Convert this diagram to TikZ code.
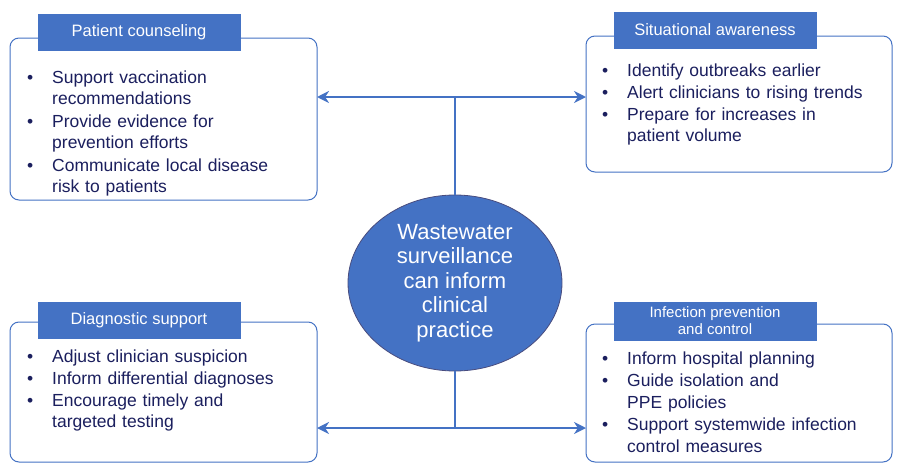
\documentclass[tikz,border=0pt]{standalone}
\usepackage{fontspec}
\setmainfont{Liberation Sans}
\usetikzlibrary{shapes.geometric,arrows.meta}
\definecolor{wwblue}{HTML}{4472C4}
\definecolor{wwtext}{HTML}{1B1F5E}
\newcommand{\bitem}[1]{\par\lineskiplimit=100pt\lineskip=1pt\noindent\makebox[25pt][l]{\textbullet}%
  \parbox[t]{265pt}{\lineskiplimit=0pt\raggedright\strut #1\strut}}
\tikzset{
  panel/.style={draw=wwblue, rounded corners=9pt, line width=1pt, fill=white},
  tab/.style={fill=wwblue, draw=wwblue, text=white, font=\fontsize{16.5}{18}\selectfont, align=center, inner sep=0pt},
  items/.style={anchor=north west, text width=290pt, inner sep=0pt, text=wwtext,
    font=\fontsize{17.5}{21.5}\selectfont, align=left},
  link/.style={wwblue, line width=2.6pt},
  tip/.style={link, <->, >={Stealth[length=12pt,width=12pt]}}
}
\begin{document}
\begin{tikzpicture}[x=1pt,y=-1pt]
  \useasboundingbox (0,0) rectangle (900,469);

  % connectors
  \coordinate (tl) at (317,97);
  \coordinate (tr) at (586,97);
  \coordinate (tm) at (455,97);
  \coordinate (bl) at (317,428);
  \coordinate (br) at (586,428);
  \coordinate (bm) at (455,428);
  \node[ellipse, fill=wwblue, draw=wwtext!80, line width=0.8pt, minimum width=214pt, minimum height=176pt,
    text=white, align=center, font=\fontsize{22}{24.5}\selectfont] (hub) at (455,283)
    {Wastewater\\surveillance\\can inform\\clinical\\practice};
  \draw[tip] (tl) -- (tr);
  \draw[tip] (bl) -- (br);
  \draw[link] (tm) -- (hub.north);
  \draw[link] (hub.south) -- (bm);

  % === Patient counseling ===
  \draw[panel] (10,38) rectangle (317,200);
  \node[tab, minimum width=202pt, minimum height=36pt] (pc) at (139,32) {Patient counseling};
  \node[items] (pcl) at (27,67) {\bitem{Support vaccination\\recommendations}
    \bitem{Provide evidence for\\prevention efforts}
    \bitem{Communicate local disease\\risk to patients}};

  % === Situational awareness ===
  \draw[panel] (586,36) rectangle (892,172);
  \node[tab, minimum width=202pt, minimum height=36pt] (sa) at (715,30) {Situational awareness};
  \node[items] (sal) at (602,60) {\bitem{Identify outbreaks earlier}
    \bitem{Alert clinicians to rising trends}
    \bitem{Prepare for increases in\\patient volume}};

  % === Diagnostic support ===
  \draw[panel] (10,322) rectangle (317,462);
  \node[tab, minimum width=202pt, minimum height=36pt] (ds) at (139,320) {Diagnostic support};
  \node[items] (dsl) at (27,346) {\bitem{Adjust clinician suspicion}
    \bitem{Inform differential diagnoses}
    \bitem{Encourage timely and\\targeted testing}};

  % === Infection prevention and control ===
  \draw[panel] (586,324) rectangle (892,462);
  \node[tab, minimum width=202pt, minimum height=38pt, font=\fontsize{15}{17}\selectfont] (ipc) at (715,321)
    {Infection prevention\\and control};
  \node[items] (ipcl) at (602,348) {\bitem{Inform hospital planning}
    \bitem{Guide isolation and\\PPE policies}
    \bitem{Support systemwide infection\\control measures}};
\end{tikzpicture}
\end{document}
